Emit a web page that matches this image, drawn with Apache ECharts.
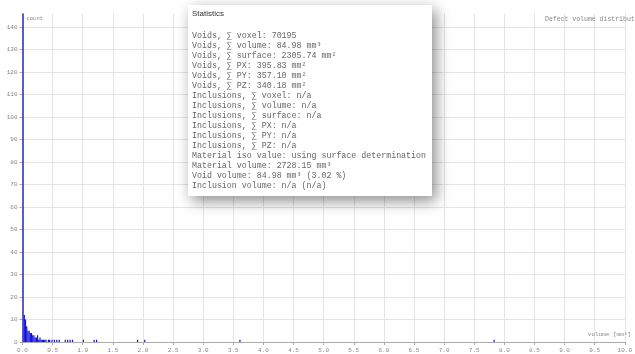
<!DOCTYPE html>
<html>
<head>
<meta charset="utf-8">
<script src="https://cdn.jsdelivr.net/npm/echarts@6/dist/echarts.min.js"></script>
<style>html,body{margin:0;padding:0;background:#fff;}#c{width:635px;height:354px;}</style>
</head>
<body>
<div id="c"></div>
<script>
// Histogram bins (bin centre volume in mm³) and counts
var volumes = [0.01,0.03,0.05,0.07,0.09,0.11,0.13,0.15,0.17,0.19,0.21,0.23,0.25,0.27,0.29,0.31,0.33,0.35,0.37,0.39,0.43,0.45,0.49,0.53,0.57,0.61,0.71,0.75,0.79,0.83,1.01,1.19,1.23,1.91,2.03,3.61,7.83];
var counts  = [400,12,10,7,5,5,4,4,3,3,2,2,3,1,2,1,1,1,1,1,1,1,1,1,1,1,1,1,1,1,1,1,1,1,1,1,1];
var xTicks = ['0.0','0.5','1.0','1.5','2.0','2.5','3.0','3.5','4.0','4.5','5.0','5.5','6.0','6.5','7.0','7.5','8.0','8.5','9.0','9.5','10.0'];
var yTicks = [0,10,20,30,40,50,60,70,80,90,100,110,120,130,140];
var statsTitle = 'Statistics';
var statsLines = [
  'Voids, \u2211 voxel: 70195',
  'Voids, \u2211 volume: 84.98 mm\u00b3',
  'Voids, \u2211 surface: 2305.74 mm\u00b2',
  'Voids, \u2211 PX: 395.83 mm\u00b2',
  'Voids, \u2211 PY: 357.10 mm\u00b2',
  'Voids, \u2211 PZ: 340.18 mm\u00b2',
  'Inclusions, \u2211 voxel: n/a',
  'Inclusions, \u2211 volume: n/a',
  'Inclusions, \u2211 surface: n/a',
  'Inclusions, \u2211 PX: n/a',
  'Inclusions, \u2211 PY: n/a',
  'Inclusions, \u2211 PZ: n/a',
  'Material iso value: using surface determination',
  'Material volume: 2728.15 mm\u00b3',
  'Void volume: 84.98 mm\u00b3 (3.02 %)',
  'Inclusion volume: n/a (n/a)'
];

var chart = echarts.init(document.getElementById('c'), null, {renderer:'canvas'});
var mono = '"Liberation Mono", "DejaVu Sans Mono", monospace';
var data = volumes.map(function(v,i){return [v, counts[i]];});
chart.setOption({
  animation:false,
  backgroundColor:'#ffffff',
  title:{text:'Defect volume distribution', left:540, top:11,
    textStyle:{fontFamily:mono, fontSize:6.5, fontWeight:'normal', color:'#888'}},
  grid:{left:22.5, right:0, top:13.5, bottom:12},
  xAxis:{type:'value', min:0, max:10, interval:0.5,
    name:'volume [mm\u00b3]', nameLocation:'end', nameGap:-37,
    nameTextStyle:{fontFamily:mono, fontSize:6, color:'#888', align:'left', verticalAlign:'bottom', padding:[0,0,5,0]},
    axisLine:{show:true, lineStyle:{color:'#aaa', width:1}},
    axisTick:{show:true, length:3, lineStyle:{color:'#aaa'}},
    axisLabel:{fontFamily:mono, fontSize:6, color:'#888', margin:5,
      formatter:function(v){var i=Math.round(v/0.5); return xTicks[i]||'';}},
    splitLine:{show:true, lineStyle:{color:'#e4e4e4', width:1}}},
  yAxis:{type:'value', min:0, max:146, interval:10,
    name:'count', nameLocation:'end', nameGap:-5,
    nameTextStyle:{fontFamily:mono, fontSize:5.5, color:'#888', align:'left', verticalAlign:'middle', padding:[0,0,0,4]},
    axisLine:{show:true, lineStyle:{color:'#aaa', width:1}},
    axisTick:{show:true, length:3, lineStyle:{color:'#aaa'}},
    axisLabel:{fontFamily:mono, fontSize:6, color:'#888', margin:5, showMaxLabel:false,
      formatter:function(v){return yTicks.indexOf(v)>=0 ? String(v) : '';}},
    splitLine:{show:true, showMaxLine:false, lineStyle:{color:'#e4e4e4', width:1}}},
  series:[{type:'bar', data:data, barWidth:'100%', clip:true,
    itemStyle:{color:'#1010e0'}, z:5}],
  graphic:[
    {type:'rect', shape:{x:188, y:5, width:244, height:191}, z:100,
      style:{fill:'#ffffff', shadowBlur:14, shadowColor:'rgba(0,0,0,0.45)', shadowOffsetX:4, shadowOffsetY:5}},
    {type:'text', x:192, y:10, z:101,
      style:{text:statsTitle, font:'8px "Liberation Sans", Arial, sans-serif', fill:'#333', textVerticalAlign:'top'}},
    {type:'text', x:192, y:31, z:101,
      style:{text:statsLines.join('\n'), font:'8.3px "Liberation Mono", "DejaVu Sans Mono", monospace', lineHeight:10, fill:'#666', textVerticalAlign:'top'}}
  ]
});
</script>
</body>
</html>
